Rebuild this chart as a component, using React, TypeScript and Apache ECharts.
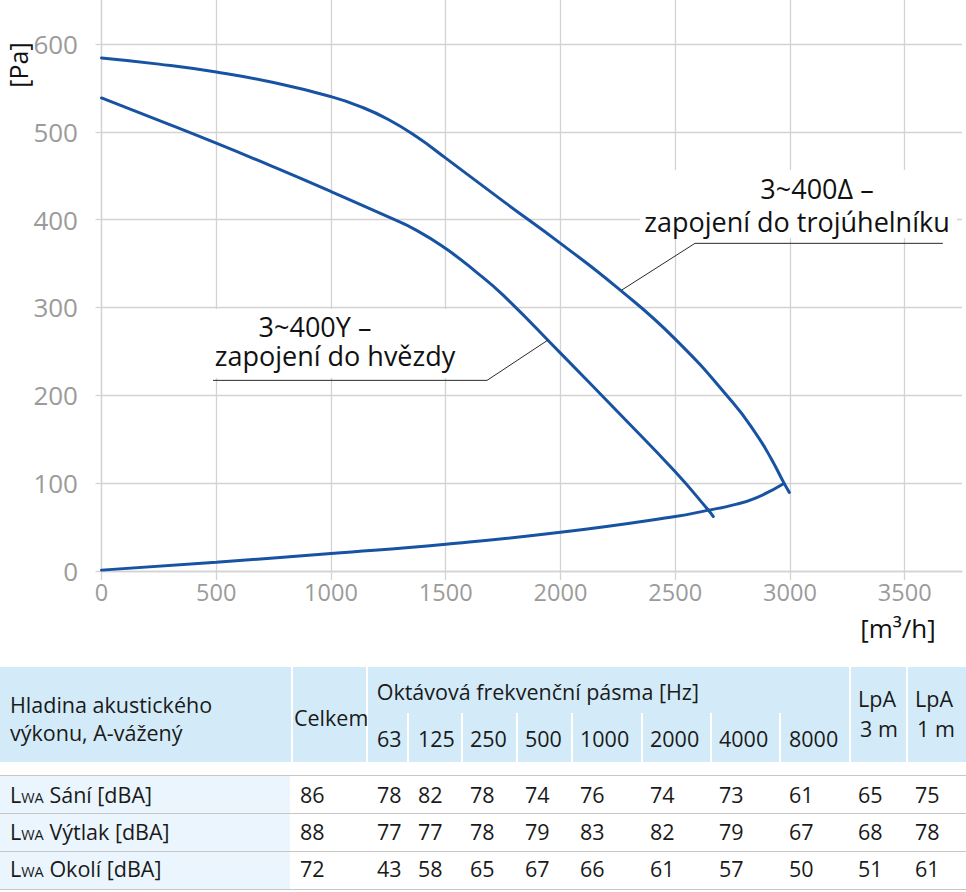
import React, { useEffect, useRef } from "react";
import * as echarts from "echarts";

// ---- chart data ----
const X_MAX = 3750;
const Y_MAX = 650;
const X_INTERVAL = 500;
const Y_INTERVAL = 100;

// 3~400Δ (delta connection) curve [m3/h, Pa]
const deltaCurve: [number, number][] = [
  [0, 584], [250, 577], [500, 568], [750, 556], [1000, 540], [1125, 529],
  [1250, 514], [1375, 494], [1500, 470], [1750, 421], [2000, 373], [2250, 322],
  [2500, 264], [2750, 192], [2850, 157], [2920, 127], [2970, 102], [2997, 89.5],
];
// 3~400Y (star connection) curve
const starCurve: [number, number][] = [
  [0, 538.5], [250, 513], [500, 487], [750, 460], [1000, 432], [1250, 403],
  [1375, 387.5], [1500, 367], [1625, 342], [1750, 314], [2000, 248],
  [2250, 181], [2500, 113], [2644, 69.4], [2666, 62],
];
// system curve
const systemCurve: [number, number][] = [
  [0, 1], [500, 10], [1000, 20], [1500, 30.5], [2000, 44], [2500, 62],
  [2640, 69], [2750, 75], [2850, 83], [2970, 99],
];
// annotation leader lines (data coords)
const deltaLeader: [number, number][] = [[2268, 320], [2586, 373], [3666, 373]];
const starLeader: [number, number][] = [[1946, 263], [1680, 217], [486, 217]];

const DELTA_LABEL = ["3~400Δ –", "zapojení do trojúhelníku"];
const STAR_LABEL = ["3~400Y –", "zapojení do hvězdy"];
const Y_NAME = "[Pa]";
const X_NAME = "[m³/h]";

// ---- table data ----
const HEAD_LABEL = ["Hladina akustického", "výkonu, A-vážený"];
const HEAD_TOTAL = "Celkem";
const HEAD_BANDS = "Oktávová frekvenční pásma [Hz]";
const BANDS = ["63", "125", "250", "500", "1000", "2000", "4000", "8000"];
const HEAD_LPA3 = ["LpA", "3 m"];
const HEAD_LPA1 = ["LpA", "1 m"];
const ROW_NAMES = ["Sání [dBA]", "Výtlak [dBA]", "Okolí [dBA]"];
const TOTALS = [86, 88, 72];
const BAND_VALUES = [
  [78, 82, 78, 74, 76, 74, 73, 61],
  [77, 77, 78, 79, 83, 82, 79, 67],
  [43, 58, 65, 67, 66, 61, 57, 50],
];
const LPA3 = [65, 68, 51];
const LPA1 = [75, 78, 61];

// ---- layout ----
const FONT = '"Open Sans", sans-serif';
const GRID_LEFT = 101.5;
const GRID_W = 860.6;
const GRID_H = 571;
const BLUE = "#1753a2";
const GRIDC = "#d3d3d3";

const TFS = 21.5;
const BAND_X = [377, 418, 470, 525, 580, 650, 719, 789];
const ROW_BASE = [803, 840.5, 877.3];

function Txt(props: { x: number; base: number; size?: number; children: any; color?: string }) {
  const size = props.size ?? TFS;
  return (
    <div
      style={{
        position: "absolute",
        left: props.x,
        top: props.base - 0.888 * size,
        fontSize: size,
        lineHeight: `${size}px`,
        whiteSpace: "nowrap",
        color: props.color ?? "#1a1a1a",
        fontFamily: FONT,
      }}
    >
      {props.children}
    </div>
  );
}

function Box(props: { x: number; y: number; w: number; h: number; bg: string }) {
  return (
    <div
      style={{
        position: "absolute",
        left: props.x,
        top: props.y,
        width: props.w,
        height: props.h,
        background: props.bg,
      }}
    />
  );
}

export default function App() {
  const ref = useRef<HTMLDivElement>(null);

  useEffect(() => {
    if (!ref.current) return;
    const chart = echarts.init(ref.current, null, { renderer: "svg" });
    const lineSeries = (data: [number, number][]) => ({
      type: "line",
      data,
      smooth: 0.5,
      symbol: "none",
      lineStyle: { color: BLUE, width: 3, cap: "round" },
      silent: true,
      z: 3,
    });
    const leader = (data: [number, number][]) => ({
      type: "line",
      data,
      smooth: false,
      symbol: "none",
      lineStyle: { color: "#2a2a2a", width: 1 },
      silent: true,
      z: 4,
    });
    const axisCommon = {
      type: "value",
      axisLine: { show: true, lineStyle: { color: GRIDC, width: 1.3 } },
      splitLine: { show: true, showMaxLine: false, lineStyle: { color: GRIDC, width: 1.3 } },
    };
    const plain = (v: number) => String(v);
    chart.setOption({
      animation: false,
      textStyle: { fontFamily: FONT },
      grid: { left: GRID_LEFT, top: 0, width: GRID_W, height: GRID_H },
      xAxis: {
        ...axisCommon,
        min: 0,
        max: X_MAX,
        interval: X_INTERVAL,
        axisTick: { show: true, length: 9, lineStyle: { color: GRIDC, width: 1.3 } },
        axisLabel: { color: "#9b9b9b", fontSize: 23.5, margin: 9, showMaxLabel: false, formatter: plain },
      },
      yAxis: {
        ...axisCommon,
        min: 0,
        max: Y_MAX,
        interval: Y_INTERVAL,
        axisTick: { show: true, length: 6, lineStyle: { color: GRIDC, width: 1.3 } },
        axisLabel: { color: "#9b9b9b", fontSize: 26, margin: 23.5, showMaxLabel: false, formatter: plain },
      },
      series: [
        lineSeries(deltaCurve),
        lineSeries(starCurve),
        lineSeries(systemCurve),
        leader(deltaLeader),
        leader(starLeader),
      ],
      graphic: {
        elements: [
          { type: "rect", z: 1, shape: { x: 640, y: 170, width: 317, height: 68 }, style: { fill: "#fff" } },
          { type: "rect", z: 1, shape: { x: 205, y: 309, width: 265, height: 69 }, style: { fill: "#fff" } },
          { type: "text", z: 5, x: 817, y: 188.5, style: { text: DELTA_LABEL[0], fontSize: 27, fill: "#111", align: "center", verticalAlign: "middle", fontFamily: FONT } },
          { type: "text", z: 5, x: 797, y: 221, style: { text: DELTA_LABEL[1], fontSize: 27, fill: "#111", align: "center", verticalAlign: "middle", fontFamily: FONT } },
          { type: "text", z: 5, x: 315, y: 326.5, style: { text: STAR_LABEL[0], fontSize: 27, fill: "#111", align: "center", verticalAlign: "middle", fontFamily: FONT } },
          { type: "text", z: 5, x: 335, y: 355.5, style: { text: STAR_LABEL[1], fontSize: 27, fill: "#111", align: "center", verticalAlign: "middle", fontFamily: FONT } },
          { type: "text", z: 5, x: 18, y: 65, rotation: Math.PI / 2, style: { text: Y_NAME, fontSize: 25, fill: "#111", align: "center", verticalAlign: "middle", fontFamily: FONT } },
          { type: "text", z: 5, x: 898, y: 628, style: { text: X_NAME, fontSize: 26, fill: "#111", align: "center", verticalAlign: "middle", fontFamily: FONT } },
        ],
      },
    });
    return () => chart.dispose();
  }, []);

  const HB = "#d3ebf9";
  const LB = "#eaf5fd";
  const LINE = "#c6c6c6";

  return (
    <div style={{ position: "absolute", left: 0, top: 0, width: 966, height: 892, background: "#fff", overflow: "hidden" }}>
      <div ref={ref} style={{ position: "absolute", left: 0, top: 0, width: 966, height: 892 }} />
      {/* header */}
      <Box x={0} y={667} w={966} h={95} bg={HB} />
      {[291.5, 366.5, 850, 906.7].map((x, i) => (
        <Box key={"vs" + i} x={x - 1} y={667} w={2} h={95} bg="#fff" />
      ))}
      {[408, 462, 517, 572, 641.7, 710.7, 780.3].map((x, i) => (
        <Box key={"ss" + i} x={x - 1} y={713} w={2} h={49} bg="#fff" />
      ))}
      <Txt x={10} base={713}>{HEAD_LABEL[0]}</Txt>
      <Txt x={10} base={741}>{HEAD_LABEL[1]}</Txt>
      <Txt x={294} base={725.7}>{HEAD_TOTAL}</Txt>
      <Txt x={376.7} base={700.5}>{HEAD_BANDS}</Txt>
      {BANDS.map((b, i) => (
        <Txt key={"b" + i} x={BAND_X[i]} base={746.7}>{b}</Txt>
      ))}
      <Txt x={858} base={706.7}>{HEAD_LPA3[0]}</Txt>
      <Txt x={860} base={736.7}>{HEAD_LPA3[1]}</Txt>
      <Txt x={915} base={706.7}>{HEAD_LPA1[0]}</Txt>
      <Txt x={917} base={736.7}>{HEAD_LPA1[1]}</Txt>
      {/* body */}
      <Box x={0} y={775} w={290} h={115} bg={LB} />
      {[775, 813, 851.5, 889.5].map((y, i) => (
        <Box key={"hl" + i} x={0} y={y - 0.5} w={966} h={1.2} bg={LINE} />
      ))}
      {ROW_NAMES.map((name, r) => (
        <React.Fragment key={"r" + r}>
          <Txt x={10} base={ROW_BASE[r]}>
            <span>L</span>
            <span style={{ fontSize: 14.5 }}>WA</span>
            <span> {name}</span>
          </Txt>
          <Txt x={300} base={ROW_BASE[r]}>{TOTALS[r]}</Txt>
          {BAND_VALUES[r].map((v, c) => (
            <Txt key={"v" + c} x={BAND_X[c]} base={ROW_BASE[r]}>{v}</Txt>
          ))}
          <Txt x={858} base={ROW_BASE[r]}>{LPA3[r]}</Txt>
          <Txt x={915} base={ROW_BASE[r]}>{LPA1[r]}</Txt>
        </React.Fragment>
      ))}
    </div>
  );
}
